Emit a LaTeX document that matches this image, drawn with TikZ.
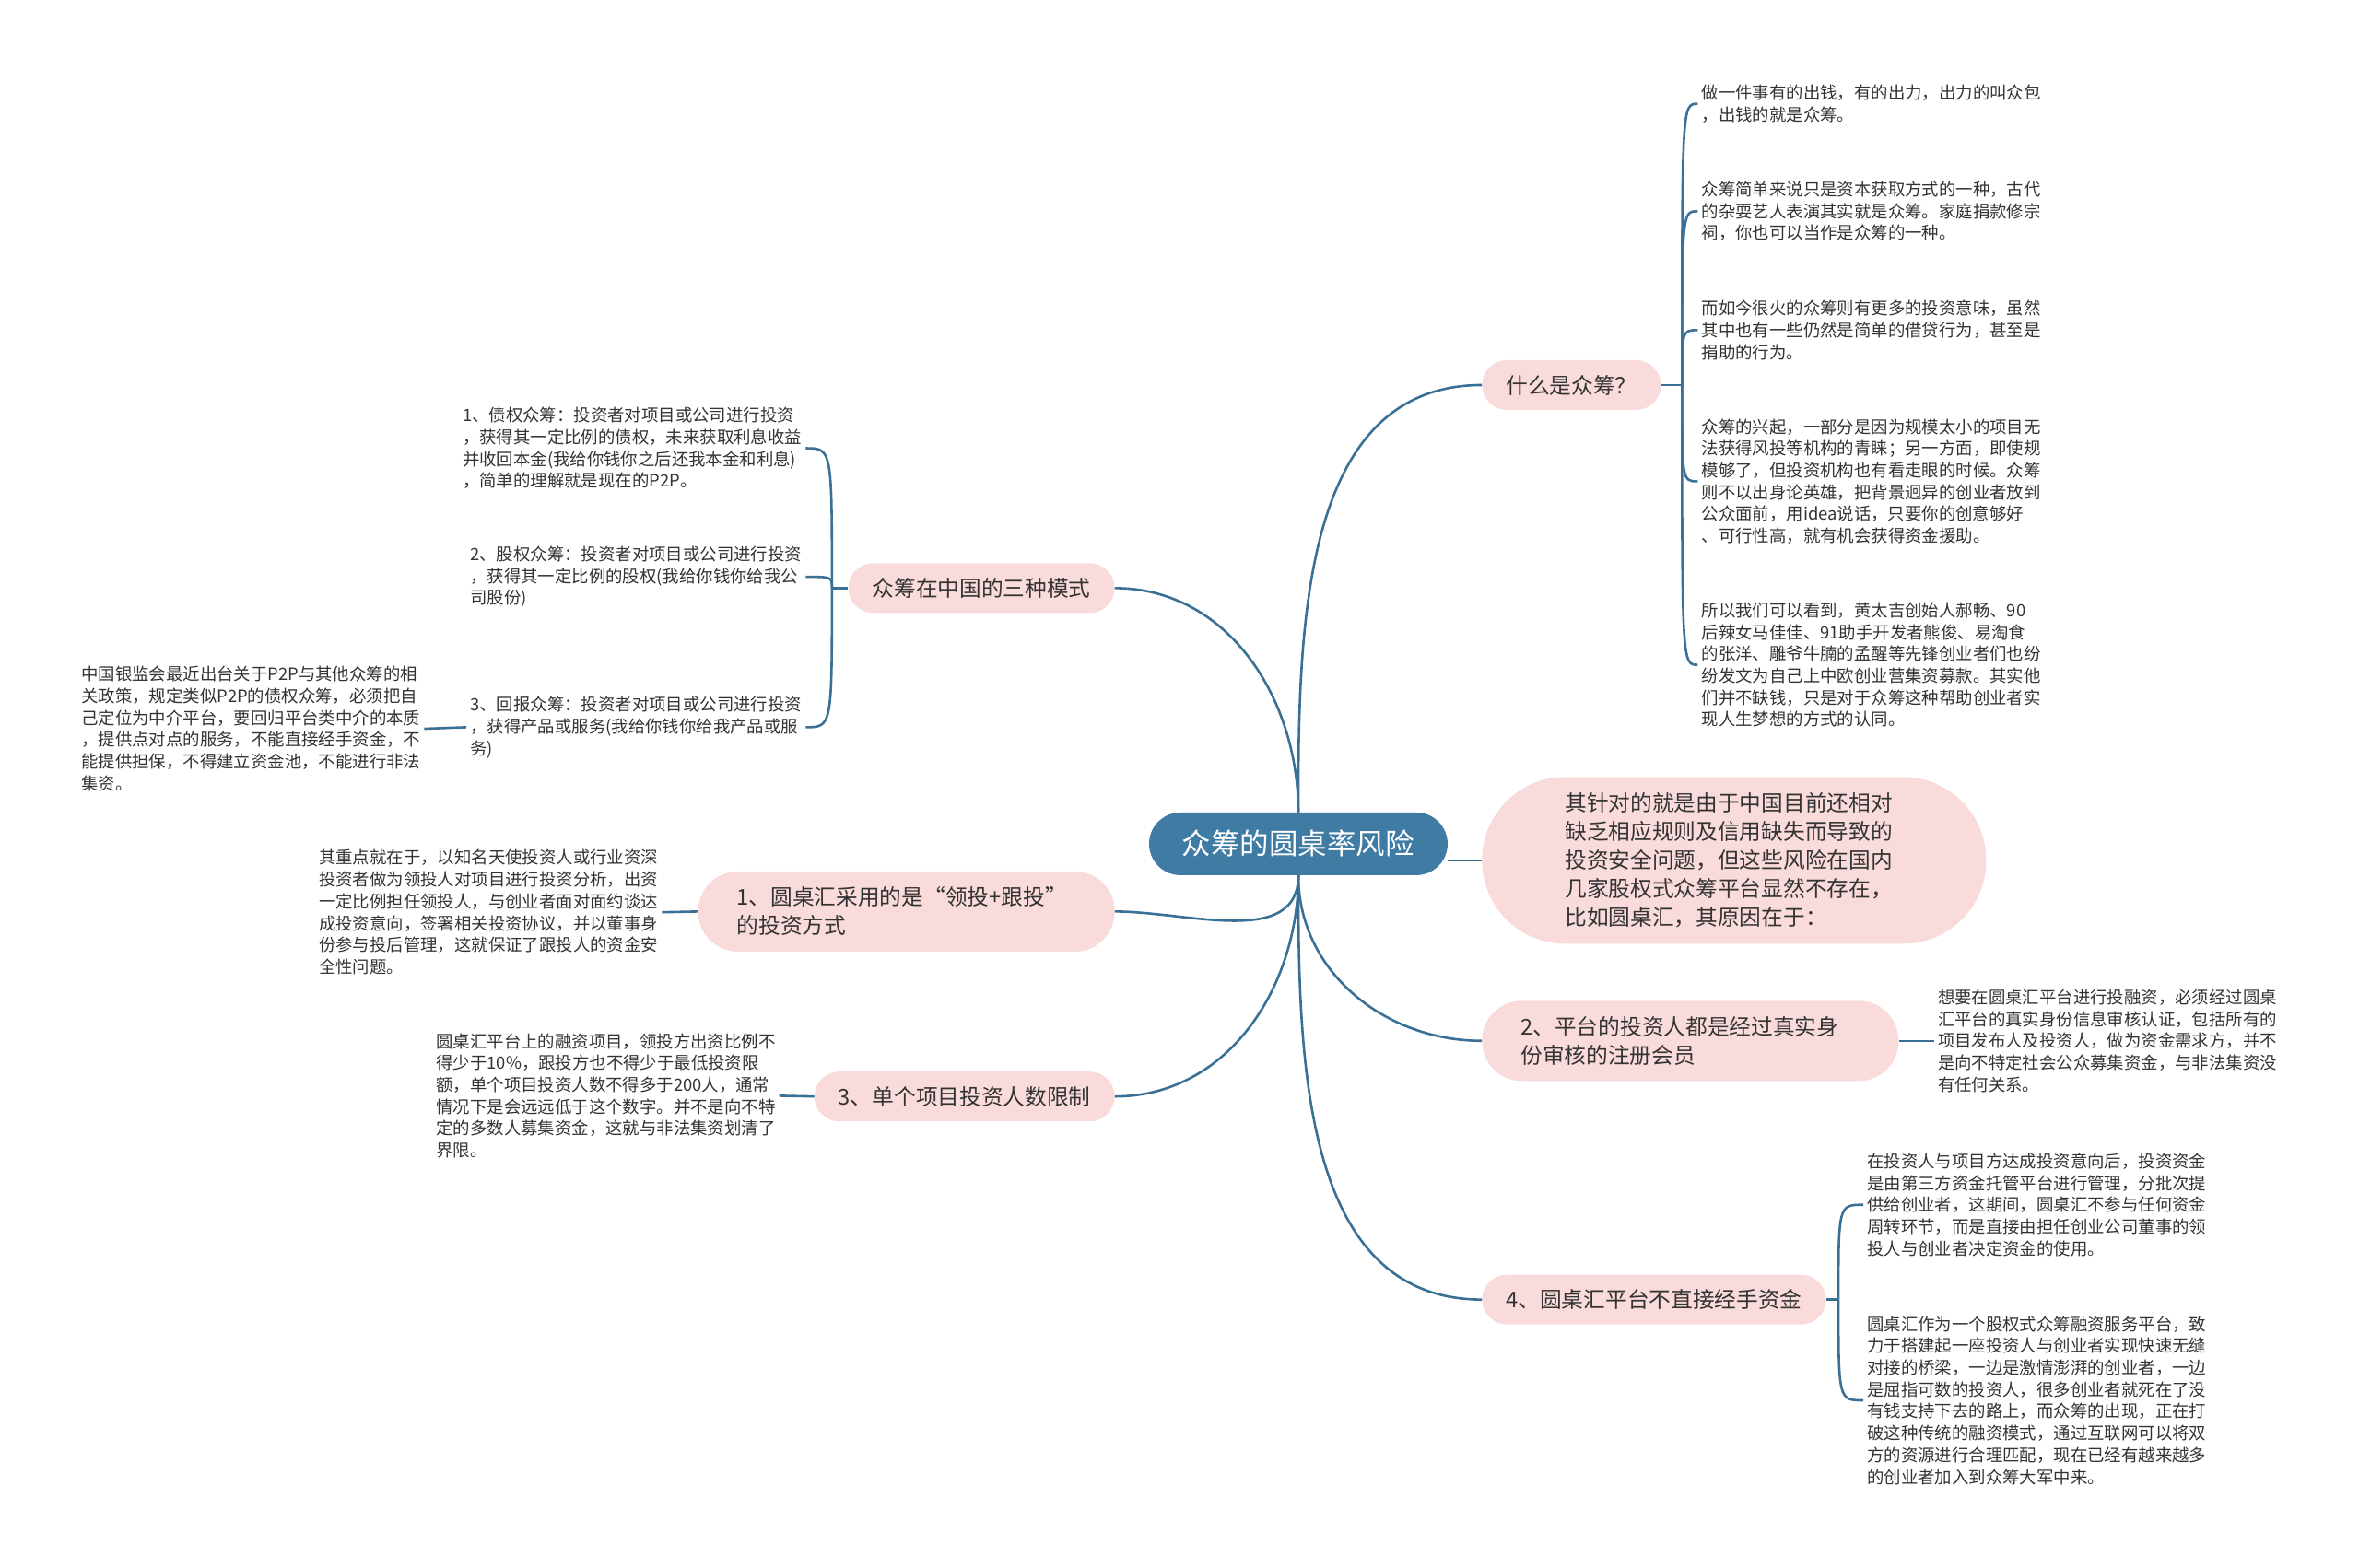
\documentclass[tikz,border=0pt]{standalone}
\usepackage{fontspec}
\setmainfont{Noto Sans CJK SC}
\usepackage{xcolor}
\usetikzlibrary{positioning}
\definecolor{rootblue}{HTML}{3F7BA2}
\definecolor{linkblue}{HTML}{3A7095}
\definecolor{topicpink}{HTML}{FADBDB}
\definecolor{leafgray}{HTML}{333333}

\tikzset{
  root/.style={fill=rootblue, text=white, rounded corners=34pt, minimum height=68pt,
    inner xsep=36pt, font=\fontsize{31.5}{38}\selectfont},
  topic/.style={fill=topicpink, text=leafgray, rounded corners=27pt, minimum height=54pt,
    inner xsep=26pt, font=\fontsize{23.7}{31}\selectfont},
  topictwo/.style={topic, align=left, rounded corners=43pt, minimum height=87pt,
    text width=368pt, inner xsep=42pt},
  leaf/.style={text=leafgray, align=left, inner xsep=4pt, inner ysep=0pt,
    font=\fontsize{18.4}{23.7}\selectfont},
  link/.style={draw=linkblue, line width=2.6pt},
}

\begin{document}
\begin{tikzpicture}[x=1.6327pt, y=-1.6327pt]
  \useasboundingbox (0,0) rectangle (1568,1042);

  % centre
  \node[root] (risk) at (863,561) {众筹的圆桌率风险};

  % topics
  \node[topic, anchor=west] (what) at (985,256) {什么是众筹？};
  \node[topic, anchor=east] (modes) at (741,391) {众筹在中国的三种模式};
  \node[topictwo, anchor=east] (lead) at (741,606) {1、圆桌汇采用的是“领投+跟投”\\的投资方式};
  \node[topic, anchor=east] (limit) at (741,729) {3、单个项目投资人数限制};
  \node[topictwo, anchor=west] (member) at (985,692) {2、平台的投资人都是经过真实身\\份审核的注册会员};
  \node[topic, anchor=west] (funds) at (985,864) {4、圆桌汇平台不直接经手资金};
  \node[topic, anchor=west, align=left, rounded corners=90pt, minimum height=181pt,
    text width=367pt, inner xsep=90pt] (why) at (985,572) {其针对的就是由于中国目前还相对\\缺乏相应规则及信用缺失而导致的\\投资安全问题，但这些风险在国内\\几家股权式众筹平台显然不存在，\\比如圆桌汇，其原因在于：};

  % what is it
  \coordinate (wfork) at (1118,256);
  \node[leaf, anchor=west] (w1) at (1128.5,69) {做一件事有的出钱，有的出力，出力的叫众包\\，出钱的就是众筹。};
  \node[leaf, anchor=west] (w2) at (1128.5,140.5) {众筹简单来说只是资本获取方式的一种，古代\\的杂耍艺人表演其实就是众筹。家庭捐款修宗\\祠，你也可以当作是众筹的一种。};
  \node[leaf, anchor=west] (w3) at (1128.5,219.5) {而如今很火的众筹则有更多的投资意味，虽然\\其中也有一些仍然是简单的借贷行为，甚至是\\捐助的行为。};
  \node[leaf, anchor=west] (w4) at (1128.5,320) {众筹的兴起，一部分是因为规模太小的项目无\\法获得风投等机构的青睐；另一方面，即使规\\模够了，但投资机构也有看走眼的时候。众筹\\则不以出身论英雄，把背景迥异的创业者放到\\公众面前，用idea说话，只要你的创意够好\\、可行性高，就有机会获得资金援助。};
  \node[leaf, anchor=west] (w5) at (1128.5,442) {所以我们可以看到，黄太吉创始人郝畅、90\\后辣女马佳佳、91助手开发者熊俊、易淘食\\的张洋、雕爷牛腩的孟醒等先锋创业者们也纷\\纷发文为自己上中欧创业营集资募款。其实他\\们并不缺钱，只是对于众筹这种帮助创业者实\\现人生梦想的方式的认同。};

  % three modes
  \coordinate (mfork) at (553,391);
  \node[leaf, anchor=east] (m1) at (535.5,298) {1、债权众筹：投资者对项目或公司进行投资\\，获得其一定比例的债权，未来获取利息收益\\并收回本金(我给你钱你之后还我本金和利息)\\，简单的理解就是现在的P2P。};
  \node[leaf, anchor=east] (m2) at (535.5,383.5) {2、股权众筹：投资者对项目或公司进行投资\\，获得其一定比例的股权(我给你钱你给我公\\司股份)};
  \node[leaf, anchor=east] (m3) at (535.5,483.5) {3、回报众筹：投资者对项目或公司进行投资\\，获得产品或服务(我给你钱你给我产品或服\\务)};
  \node[leaf, anchor=east] (m3note) at (282,484.5) {中国银监会最近出台关于P2P与其他众筹的相\\关政策，规定类似P2P的债权众筹，必须把自\\己定位为中介平台，要回归平台类中介的本质\\，提供点对点的服务，不能直接经手资金，不\\能提供担保，不得建立资金池，不能进行非法\\集资。};

  % lead and follow, limit
  \node[leaf, anchor=east] (leadnote) at (440,606.5) {其重点就在于，以知名天使投资人或行业资深\\投资者做为领投人对项目进行投资分析，出资\\一定比例担任领投人，与创业者面对面约谈达\\成投资意向，签署相关投资协议，并以董事身\\份参与投后管理，这就保证了跟投人的资金安\\全性问题。};
  \node[leaf, anchor=east] (limitnote) at (518,728.5) {圆桌汇平台上的融资项目，领投方出资比例不\\得少于10\%，跟投方也不得少于最低投资限\\额，单个项目投资人数不得多于200人，通常\\情况下是会远远低于这个数字。并不是向不特\\定的多数人募集资金，这就与非法集资划清了\\界限。};

  % member, funds
  \node[leaf, anchor=west] (membernote) at (1285.5,692) {想要在圆桌汇平台进行投融资，必须经过圆桌\\汇平台的真实身份信息审核认证，包括所有的\\项目发布人及投资人，做为资金需求方，并不\\是向不特定社会公众募集资金，与非法集资没\\有任何关系。};
  \coordinate (ffork) at (1222,864);
  \node[leaf, anchor=west] (funds1) at (1238.5,801) {在投资人与项目方达成投资意向后，投资资金\\是由第三方资金托管平台进行管理，分批次提\\供给创业者，这期间，圆桌汇不参与任何资金\\周转环节，而是直接由担任创业公司董事的领\\投人与创业者决定资金的使用。};
  \node[leaf, anchor=west] (funds2) at (1238.5,931) {圆桌汇作为一个股权式众筹融资服务平台，致\\力于搭建起一座投资人与创业者实现快速无缝\\对接的桥梁，一边是激情澎湃的创业者，一边\\是屈指可数的投资人，很多创业者就死在了没\\有钱支持下去的路上，而众筹的出现，正在打\\破这种传统的融资模式，通过互联网可以将双\\方的资源进行合理匹配，现在已经有越来越多\\的创业者加入到众筹大军中来。};

  % links from the centre
  \draw[link] (risk.north) to[out=90, in=180] (what.west);
  \draw[link] (risk.north) to[out=90, in=0] (modes.east);
  \draw[link] (risk.south) to[out=-90, in=0] (lead.east);
  \draw[link] (risk.south) to[out=-90, in=0] (limit.east);
  \draw[link] (risk.south) to[out=-90, in=180] (member.west);
  \draw[link] (risk.south) to[out=-90, in=180] (funds.west);
  \draw[link] (why.west -| risk.east) -- (why.west);

  % forks
  \draw[link] (what.east) -- (wfork);
  \foreach \leafname in {w1,w2,w3,w4,w5}
    \draw[link] (wfork) .. controls (wfork |- \leafname.west) .. (\leafname.west);
  \draw[link] (modes.west) -- (mfork);
  \foreach \leafname in {m1,m2,m3}
    \draw[link] (mfork) .. controls (mfork |- \leafname.east) .. (\leafname.east);
  \draw[link] (funds.east) -- (ffork);
  \foreach \leafname in {funds1,funds2}
    \draw[link] (ffork) .. controls (ffork |- \leafname.west) .. (\leafname.west);

  % single notes
  \draw[link] (m3.west) -- (m3note.east);
  \draw[link] (lead.west) -- (leadnote.east);
  \draw[link] (limit.west) -- (limitnote.east);
  \draw[link] (member.east) -- (membernote.west);
\end{tikzpicture}
\end{document}
